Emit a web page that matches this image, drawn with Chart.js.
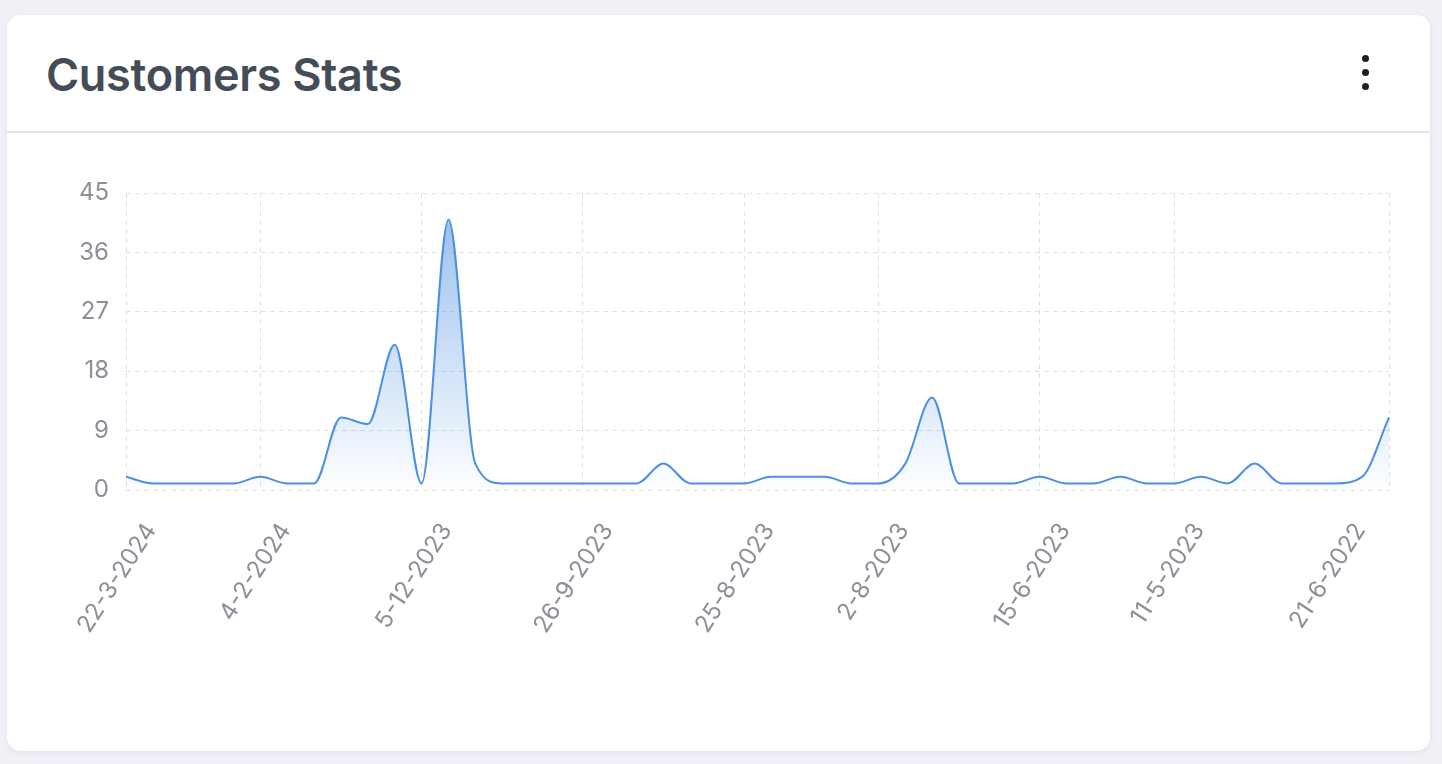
<!DOCTYPE html>
<html>
<head>
<meta charset="utf-8">
<title>Customers Stats</title>
<script src="https://cdn.jsdelivr.net/npm/chart.js@4.4.1/dist/chart.umd.min.js"></script>
<style>
  html, body { margin: 0; padding: 0; }
  body {
    width: 1442px; height: 764px;
    background: #f0f1f7;
    font-family: Inter, "Noto Sans", sans-serif;
    position: relative; overflow: hidden;
  }
  .card {
    position: absolute; left: 7px; top: 15px;
    width: 1423px; height: 736px;
    background: #fff; border-radius: 14px;
    box-shadow: 0 2px 6px rgba(60, 70, 110, 0.08);
  }
  .card-header {
    height: 116px; border-bottom: 2px solid #e4e5e8;
    position: relative;
  }
  .card-header h2 {
    margin: 0; position: absolute; left: 39px; top: 32px;
    font-size: 45px; font-weight: 600; color: #434c57;
    letter-spacing: -0.3px;
  }
  .menu { position: absolute; left: 1355px; top: 40px; }
  .menu span {
    display: block; width: 7px; height: 7px; border-radius: 50%;
    background: #1f1f1f; margin-bottom: 7px;
  }
  .chart-box {
    position: absolute; left: 30px; top: 150px;
    width: 1380px; height: 540px;
  }
</style>
</head>
<body>
<div class="card">
  <div class="card-header">
    <h2>Customers Stats</h2>
    <div class="menu"><span></span><span></span><span></span></div>
  </div>
</div>
<div class="chart-box"><canvas id="customersChart"></canvas></div>

<script>
// ---------- data ----------
const dates = [
  "22-3-2024", "", "", "", "", "4-2-2024", "", "", "", "", "",
  "5-12-2023", "", "", "", "", "", "26-9-2023", "", "", "", "", "",
  "25-8-2023", "", "", "", "", "2-8-2023", "", "", "", "", "",
  "15-6-2023", "", "", "", "", "11-5-2023", "", "", "", "", "",
  "21-6-2022", "", ""
];

const customers = [
  2, 1, 1, 1, 1, 2, 1, 1, 11, 10, 22, 1, 41, 4, 1, 1,
  1, 1, 1, 1, 4, 1, 1, 1, 2, 2, 2, 1, 1, 4, 14, 1,
  1, 1, 2, 1, 1, 2, 1, 1, 2, 1, 4, 1, 1, 1, 2, 11
];

const yTicks = [0, 9, 18, 27, 36, 45];

// vertical grid lines (category indexes)
const gridAt = [0, 5, 11, 17, 23, 28, 34, 39, 47];

// ---------- chart ----------
const tickFont = { family: "Inter, 'Noto Sans', sans-serif", size: 24 };
const tickColor = "#8b9098";
const gridColor = "#e1e1e1";

function areaFill(ctx) {
  const area = ctx.chart.chartArea;
  if (!area) return "rgba(74,144,226,0.2)";
  const g = ctx.chart.ctx.createLinearGradient(0, area.top, 0, area.bottom);
  g.addColorStop(0, "rgba(74,144,226,0.6)");
  g.addColorStop(1, "rgba(74,144,226,0.01)");
  return g;
}

new Chart(document.getElementById("customersChart"), {
  type: "line",
  data: {
    labels: dates,
    datasets: [{
      data: customers,
      borderColor: "#4a90e2",
      borderWidth: 2,
      backgroundColor: areaFill,
      fill: "origin",
      pointRadius: 0,
      cubicInterpolationMode: "monotone"
    }]
  },
  options: {
    responsive: true,
    maintainAspectRatio: false,
    animation: false,
    layout: { padding: { left: 26, right: 21, top: 43, bottom: 0 } },
    plugins: { legend: { display: false }, tooltip: { enabled: false } },
    scales: {
      x: {
        afterFit: (s) => { s.height = 200; s.paddingLeft = 0; s.paddingRight = 0; },
        border: { display: false, dash: [5, 4] },
        grid: {
          drawTicks: false,
          color: (c) => gridAt.includes(c.index) ? gridColor : "rgba(0,0,0,0)"
        },
        ticks: {
          autoSkip: false,
          maxRotation: 57,
          minRotation: 57,
          padding: 28,
          labelOffset: 25,
          color: tickColor,
          font: tickFont
        }
      },
      y: {
        min: 0,
        max: 45,
        afterFit: (s) => { s.width = 70; },
        afterBuildTicks: (s) => { s.ticks = yTicks.map(v => ({ value: v })); },
        border: { display: false, dash: [5, 4] },
        grid: { drawTicks: false, color: gridColor },
        ticks: { padding: 17, color: tickColor, font: tickFont }
      }
    }
  }
});
</script>
</body>
</html>
